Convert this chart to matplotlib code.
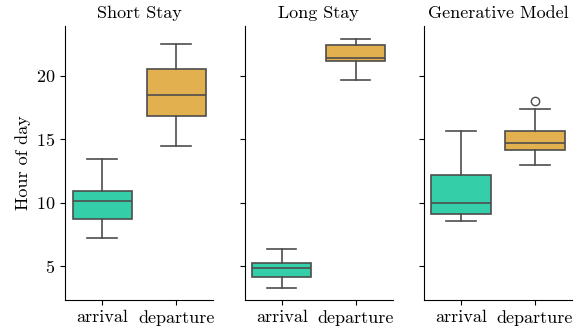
import matplotlib
matplotlib.use("Agg")
import matplotlib.pyplot as plt

plt.rcParams['font.family'] = 'serif'
plt.rcParams['font.serif'] = ['cmr10', 'DejaVu Serif']
plt.rcParams['axes.formatter.use_mathtext'] = True
plt.rcParams['font.size'] = 13

# box stats: (low whisker, q1, median, q3, high whisker)
panels = ['Short Stay', 'Long Stay', 'Generative Model']
labels = ['arrival', 'departure']
arrival = [(7.26, 8.76, 10.13, 10.97, 13.47),
           (3.34, 4.18, 4.89, 5.31, 6.34),
           (8.58, 9.16, 10.02, 12.21, 15.63)]
departure = [(14.47, 16.81, 18.52, 20.54, 22.52),
             (19.65, 21.15, 21.37, 22.44, 22.94),
             (12.97, 14.2, 14.74, 15.65, 17.36)]
outliers_dep = [[], [], [18.05]]

colors = ['#34cea8', '#e3b04f']
edge = '#4d4d4d'

fig = plt.figure(figsize=(5.84, 3.30), dpi=100)
lefts = [0.1118, 0.419, 0.726]
axes = []
for i, name in enumerate(panels):
    ax = fig.add_axes([lefts[i], 0.0909, 0.2534, 0.830],
                      sharey=axes[0] if axes else None)
    axes.append(ax)
    stats = []
    for j, s in enumerate([arrival[i], departure[i]]):
        stats.append(dict(whislo=s[0], q1=s[1], med=s[2], q3=s[3], whishi=s[4],
                          fliers=outliers_dep[i] if j == 1 else []))
    bp = ax.bxp(stats, positions=[0, 1], widths=0.8, patch_artist=True,
                showfliers=True,
                boxprops=dict(edgecolor=edge, linewidth=1.2),
                medianprops=dict(color=edge, linewidth=1.2),
                whiskerprops=dict(color=edge, linewidth=1.2),
                capprops=dict(color=edge, linewidth=1.2),
                flierprops=dict(marker='o', markerfacecolor='none',
                                markeredgecolor=edge, markersize=6))
    for patch, c in zip(bp['boxes'], colors):
        patch.set_facecolor(c)
    for cap in bp['caps']:
        x = cap.get_xdata()
        mid = (x[0] + x[1]) / 2
        cap.set_xdata([mid - 0.2, mid + 0.2])
    ax.set_xlim(-0.5, 1.5)
    ax.set_xticks([0, 1])
    ax.set_xticklabels(labels)
    ax.set_title(name, fontsize=13)
    ax.spines['top'].set_visible(False)
    ax.spines['right'].set_visible(False)
    if i > 0:
        ax.tick_params(labelleft=False)

axes[0].set_ylim(2.36, 23.92)
axes[0].set_yticks([5, 10, 15, 20])
axes[0].set_ylabel('Hour of day')

fig.savefig('out.png', dpi=100)
